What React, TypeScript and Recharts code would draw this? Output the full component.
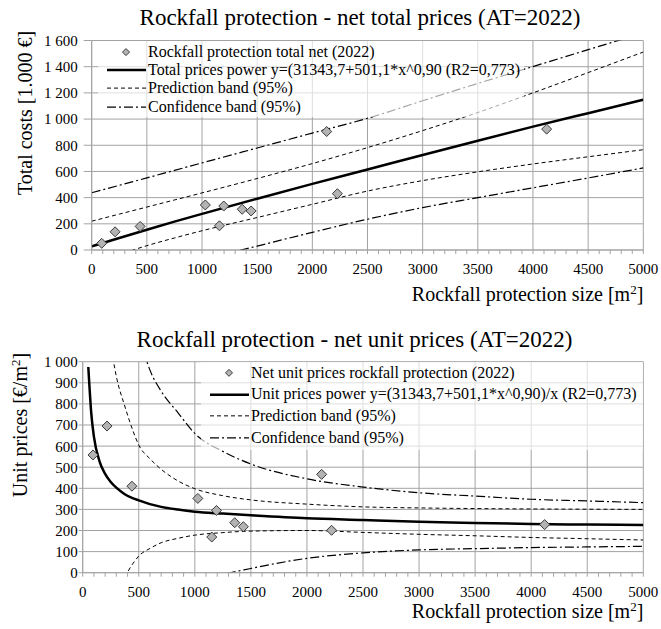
import {
  ComposedChart, Line, Scatter, XAxis, YAxis, CartesianGrid, ReferenceLine, Legend, Label,
} from 'recharts';

const FONT = '"Liberation Serif", "Times New Roman", serif';
const GRID = '#a3a3a3';

// axis ticks
const sizeGrid = [0, 500, 1000, 1500, 2000, 2500, 3000, 3500, 4000, 4500, 5000];
const sizeMinor = Array.from({ length: 51 }, (_, i) => i * 100);
const totalTicks = [0, 200, 400, 600, 800, 1000, 1200, 1400, 1600];
const unitTicks = [0, 100, 200, 300, 400, 500, 600, 700, 800, 900, 1000];

// total prices chart [1.000 €]
const totalSize = [91, 212, 439, 1030, 1158, 1197, 1364, 1445, 2130, 2227, 4124];
const totalNet = [51, 139, 180, 344, 185, 336, 311, 298, 905, 430, 923];

const curveSize = [0, 250, 500, 750, 1000, 1500, 2000, 2500, 3000, 3500, 4000, 4500, 5000];
const totalFit = [28, 92, 155, 217, 276, 392, 505, 615, 726, 835, 942, 1045, 1147];
const totalPredUpper = [220, 274, 328, 382, 436, 546, 660, 782, 912, 1050, 1200, 1355, 1512];
const totalPredLower = [-110, -35, 33, 92, 147, 248, 349, 450, 530, 597, 657, 712, 766];
const totalConfUpper = [437, 494, 551, 608, 665, 779, 893, 1006, 1140, 1272, 1401, 1530, 1658];
const totalConfLower = [-290, -235, -180, -128, -75, 30, 135, 235, 324, 400, 475, 550, 627];

// unit prices chart [€/m²]
const unitSize = [92, 217, 439, 1027, 1151, 1193, 1356, 1433, 2131, 2220, 4120];
const unitNet = [558, 695, 410, 352, 169, 295, 237, 218, 466, 201, 228];

const unitCurveSize = [50, 60, 75, 100, 150, 200, 250, 300, 375, 450, 500, 600, 700, 850, 1000, 1250, 1500, 2000, 2500, 3000, 3500, 4000, 4500, 5000];
const unitFit = [975, 885, 765, 645, 528, 468, 430, 403, 372, 352, 343, 325, 312, 299, 289, 280, 272, 258, 250, 242, 236, 231, 228, 226];
const unitPredUpper = [null, null, null, null, null, 1250, 1080, 930, 790, 670, 605, 540, 490, 435, 398, 365, 345, 325, 312, 307, 304, 302, 301, 300];
const unitPredLower = [null, null, null, null, null, null, null, null, -20, 45, 79, 115, 142, 163, 178, 190, 197, 200, 191, 182, 175, 167, 161, 155];
const unitConfUpper = [null, null, null, null, null, null, null, null, null, null, 1130, 960, 860, 758, 660, 575, 515, 445, 406, 379, 363, 348, 340, 332];
const unitConfLower = [null, null, null, null, null, null, null, null, null, null, null, null, null, null, -60, -10, 20, 68, 94, 108, 114, 119, 122, 125];

const pts = (xs: number[], ys: (number | null)[]) => xs.map((x, i) => ({ x, y: ys[i] }));

const fmtSpace = (v: number) =>
  v >= 1000 ? `${Math.floor(v / 1000)} ${String(v % 1000).padStart(3, '0')}` : String(v);

const DASH = '4 3';
const DASHDOT = '9 3 2 3';

function Diamond({ cx, cy, r = 5 }: { cx: number; cy: number; r?: number }) {
  return (
    <polygon
      points={`${cx},${cy - r} ${cx + r},${cy} ${cx},${cy + r} ${cx - r},${cy}`}
      fill="#b3b3b3"
      stroke="#3a3a3a"
      strokeWidth={1}
    />
  );
}

function SizeTick({ x, y, payload }: any) {
  if (payload.value % 500 !== 0) return <g />;
  return (
    <text x={x} y={y} dy="0.71em" textAnchor="middle" fill="#000" fontSize={15} fontFamily={FONT}>
      {payload.value}
    </text>
  );
}

function ValueTick({ x, y, payload }: any) {
  return (
    <text x={x} y={y} dy="0.36em" textAnchor="end" fill="#000" fontSize={15} fontFamily={FONT}>
      {fmtSpace(payload.value)}
    </text>
  );
}

type Kind = 'point' | 'fit' | 'pred' | 'conf';

function LegendBox({ items, rowH }: { items: { name: string; kind: Kind }[]; rowH: number }) {
  const m = rowH / 2;
  return (
    <div style={{ fontFamily: FONT, fontSize: 16, color: '#000' }}>
      {items.map((it) => (
        <div key={it.name} style={{ display: 'flex', alignItems: 'center', height: rowH, whiteSpace: 'nowrap' }}>
          <svg width={42} height={rowH} style={{ flex: 'none' }}>
            {it.kind === 'point' && <Diamond cx={20} cy={m} r={3.5} />}
            {it.kind === 'fit' && <line x1={1} x2={40} y1={m} y2={m} stroke="#000" strokeWidth={2.5} />}
            {it.kind === 'pred' && <line x1={1} x2={40} y1={m} y2={m} stroke="#000" strokeWidth={1} strokeDasharray={DASH} />}
            {it.kind === 'conf' && <line x1={1} x2={40} y1={m} y2={m} stroke="#000" strokeWidth={1.2} strokeDasharray={DASHDOT} />}
          </svg>
          <span>{it.name}</span>
        </div>
      ))}
    </div>
  );
}

const totalLegend: { name: string; kind: Kind }[] = [
  { name: 'Rockfall protection total net (2022)', kind: 'point' },
  { name: 'Total prices power y=(31343,7+501,1*x^0,90 (R2=0,773)', kind: 'fit' },
  { name: 'Prediction band (95%)', kind: 'pred' },
  { name: 'Confidence band (95%)', kind: 'conf' },
];
const unitLegend: { name: string; kind: Kind }[] = [
  { name: 'Net unit prices rockfall protection (2022)', kind: 'point' },
  { name: 'Unit prices power y=(31343,7+501,1*x^0,90)/x (R2=0,773)', kind: 'fit' },
  { name: 'Prediction band (95%)', kind: 'pred' },
  { name: 'Confidence band (95%)', kind: 'conf' },
];

function Panel(props: {
  top: number; height: number; plotTop: number; yWidth: number; xHeight: number;
  yMax: number; yTicks: number[]; ytSize: number; ytMargin: number; xtMargin: number;
  points: { x: number; y: number | null }[];
  fit: any[]; predU: any[]; predL: any[]; confU: any[]; confL: any[];
  title: string; yTitle: React.ReactNode; yTitleX: number; yTitleY: number; xTitleDy: number;
  legend: { name: string; kind: Kind }[]; legendStyle: React.CSSProperties; rowH: number;
  titleTop: number; titleCx: number;
}) {
  const p = props;
  return (
    <div style={{ position: 'absolute', left: 0, top: p.top, width: 661, height: p.height, fontFamily: FONT }}>
      <div
        style={{
          position: 'absolute', left: p.titleCx - 360, top: p.titleTop, width: 720, textAlign: 'center',
          fontFamily: FONT, fontSize: 23, lineHeight: '23px', color: '#000', whiteSpace: 'nowrap', zIndex: 2,
        }}
      >
        {p.title}
      </div>
      <ComposedChart width={661} height={p.height} margin={{ top: p.plotTop, right: 17.7, bottom: 0, left: 0 }}>
        <CartesianGrid vertical={false} stroke={GRID} strokeDasharray="" />
        {sizeGrid.map((v) => (
          <ReferenceLine key={v} x={v} stroke={GRID} strokeWidth={1} />
        ))}
        <XAxis
          type="number" dataKey="x" domain={[0, 5000]} ticks={sizeMinor} interval={0} allowDataOverflow
          height={p.xHeight} tick={<SizeTick />} tickSize={4} tickMargin={p.xtMargin}
          axisLine={{ stroke: GRID }} tickLine={{ stroke: GRID }}
        >
          <Label
            content={(lp: any) => {
              const vb = lp.viewBox;
              return (
                <text x={vb.x + vb.width} y={vb.y + p.xTitleDy} textAnchor="end" fill="#000" fontSize={20} fontFamily={FONT}>
                  Rockfall protection size [m<tspan dy={-7} fontSize={13}>2</tspan><tspan dy={7}>]</tspan>
                </text>
              );
            }}
          />
        </XAxis>
        <YAxis
          type="number" domain={[0, p.yMax]} ticks={p.yTicks} interval={0} allowDataOverflow width={p.yWidth}
          tick={<ValueTick />}
          tickSize={p.ytSize} tickMargin={p.ytMargin} axisLine={{ stroke: GRID }} tickLine={{ stroke: GRID }}
        >
          <Label
            content={(lp: any) => {
              const vb = lp.viewBox;
              const cx = vb.x + p.yTitleX;
              const cy = vb.y + p.yTitleY;
              return (
                <text transform={`rotate(-90 ${cx} ${cy})`} x={cx} y={cy} textAnchor="middle" fill="#000" fontSize={20} fontFamily={FONT}>
                  {p.yTitle}
                </text>
              );
            }}
          />
        </YAxis>
        <Legend
          layout="vertical" align="center" verticalAlign="middle"
          wrapperStyle={p.legendStyle}
          content={() => <LegendBox items={p.legend} rowH={p.rowH} />}
        />
        <Line data={p.confU} dataKey="y" type="monotone" stroke="#000" strokeWidth={1.2} strokeDasharray={DASHDOT} dot={false} activeDot={false} isAnimationActive={false} />
        <Line data={p.confL} dataKey="y" type="monotone" stroke="#000" strokeWidth={1.2} strokeDasharray={DASHDOT} dot={false} activeDot={false} isAnimationActive={false} />
        <Line data={p.predU} dataKey="y" type="monotone" stroke="#000" strokeWidth={1} strokeDasharray={DASH} dot={false} activeDot={false} isAnimationActive={false} />
        <Line data={p.predL} dataKey="y" type="monotone" stroke="#000" strokeWidth={1} strokeDasharray={DASH} dot={false} activeDot={false} isAnimationActive={false} />
        <Line data={p.fit} dataKey="y" type="monotone" stroke="#000" strokeWidth={2.5} dot={false} activeDot={false} isAnimationActive={false} />
        <Scatter data={p.points} dataKey="y" isAnimationActive={false} shape={(sp: any) => <Diamond cx={sp.cx} cy={sp.cy} />} />
      </ComposedChart>
    </div>
  );
}

export default function App() {
  return (
    <div style={{ position: 'absolute', left: 0, top: 0, width: 661, height: 629, background: '#fff', overflow: 'hidden' }}>
      <Panel
        top={0} height={310} plotTop={40.5} yWidth={91.7} xHeight={60}
        yMax={1600} yTicks={totalTicks} ytSize={8} ytMargin={6} xtMargin={9}
        points={pts(totalSize, totalNet)}
        fit={pts(curveSize, totalFit)} predU={pts(curveSize, totalPredUpper)} predL={pts(curveSize, totalPredLower)}
        confU={pts(curveSize, totalConfUpper)} confL={pts(curveSize, totalConfLower)}
        title="Rockfall protection - net total prices (AT=2022)" titleTop={6} titleCx={360}
        yTitle="Total costs [1.000 €]" yTitleX={32} yTitleY={72.5} xTitleDy={51}
        legend={totalLegend} rowH={18.2}
        legendStyle={{
          left: 98, top: 41, width: 426, height: 76, paddingLeft: 8, paddingTop: 2, boxSizing: 'border-box',
          background: 'rgba(255,255,255,0.65)',
        }}
      />
      <Panel
        top={320} height={309} plotTop={41.7} yWidth={82.7} xHeight={56.3}
        yMax={1000} yTicks={unitTicks} ytSize={4} ytMargin={1} xtMargin={10}
        points={pts(unitSize, unitNet)}
        fit={pts(unitCurveSize, unitFit)} predU={pts(unitCurveSize, unitPredUpper)} predL={pts(unitCurveSize, unitPredLower)}
        confU={pts(unitCurveSize, unitConfUpper)} confL={pts(unitCurveSize, unitConfLower)}
        title="Rockfall protection - net unit prices (AT=2022)" titleTop={7.5} titleCx={354.5}
        yTitle={<>Unit prices [€/m<tspan dy={-7} fontSize={13}>2</tspan><tspan dy={7}>]</tspan></>}
        yTitleX={27} yTitleY={63.3} xTitleDy={45.3}
        legend={unitLegend} rowH={21.7}
        legendStyle={{
          left: 201, top: 41.9, width: 442, height: 88, paddingLeft: 8, boxSizing: 'border-box',
          background: 'rgba(255,255,255,0.65)',
        }}
      />
    </div>
  );
}
